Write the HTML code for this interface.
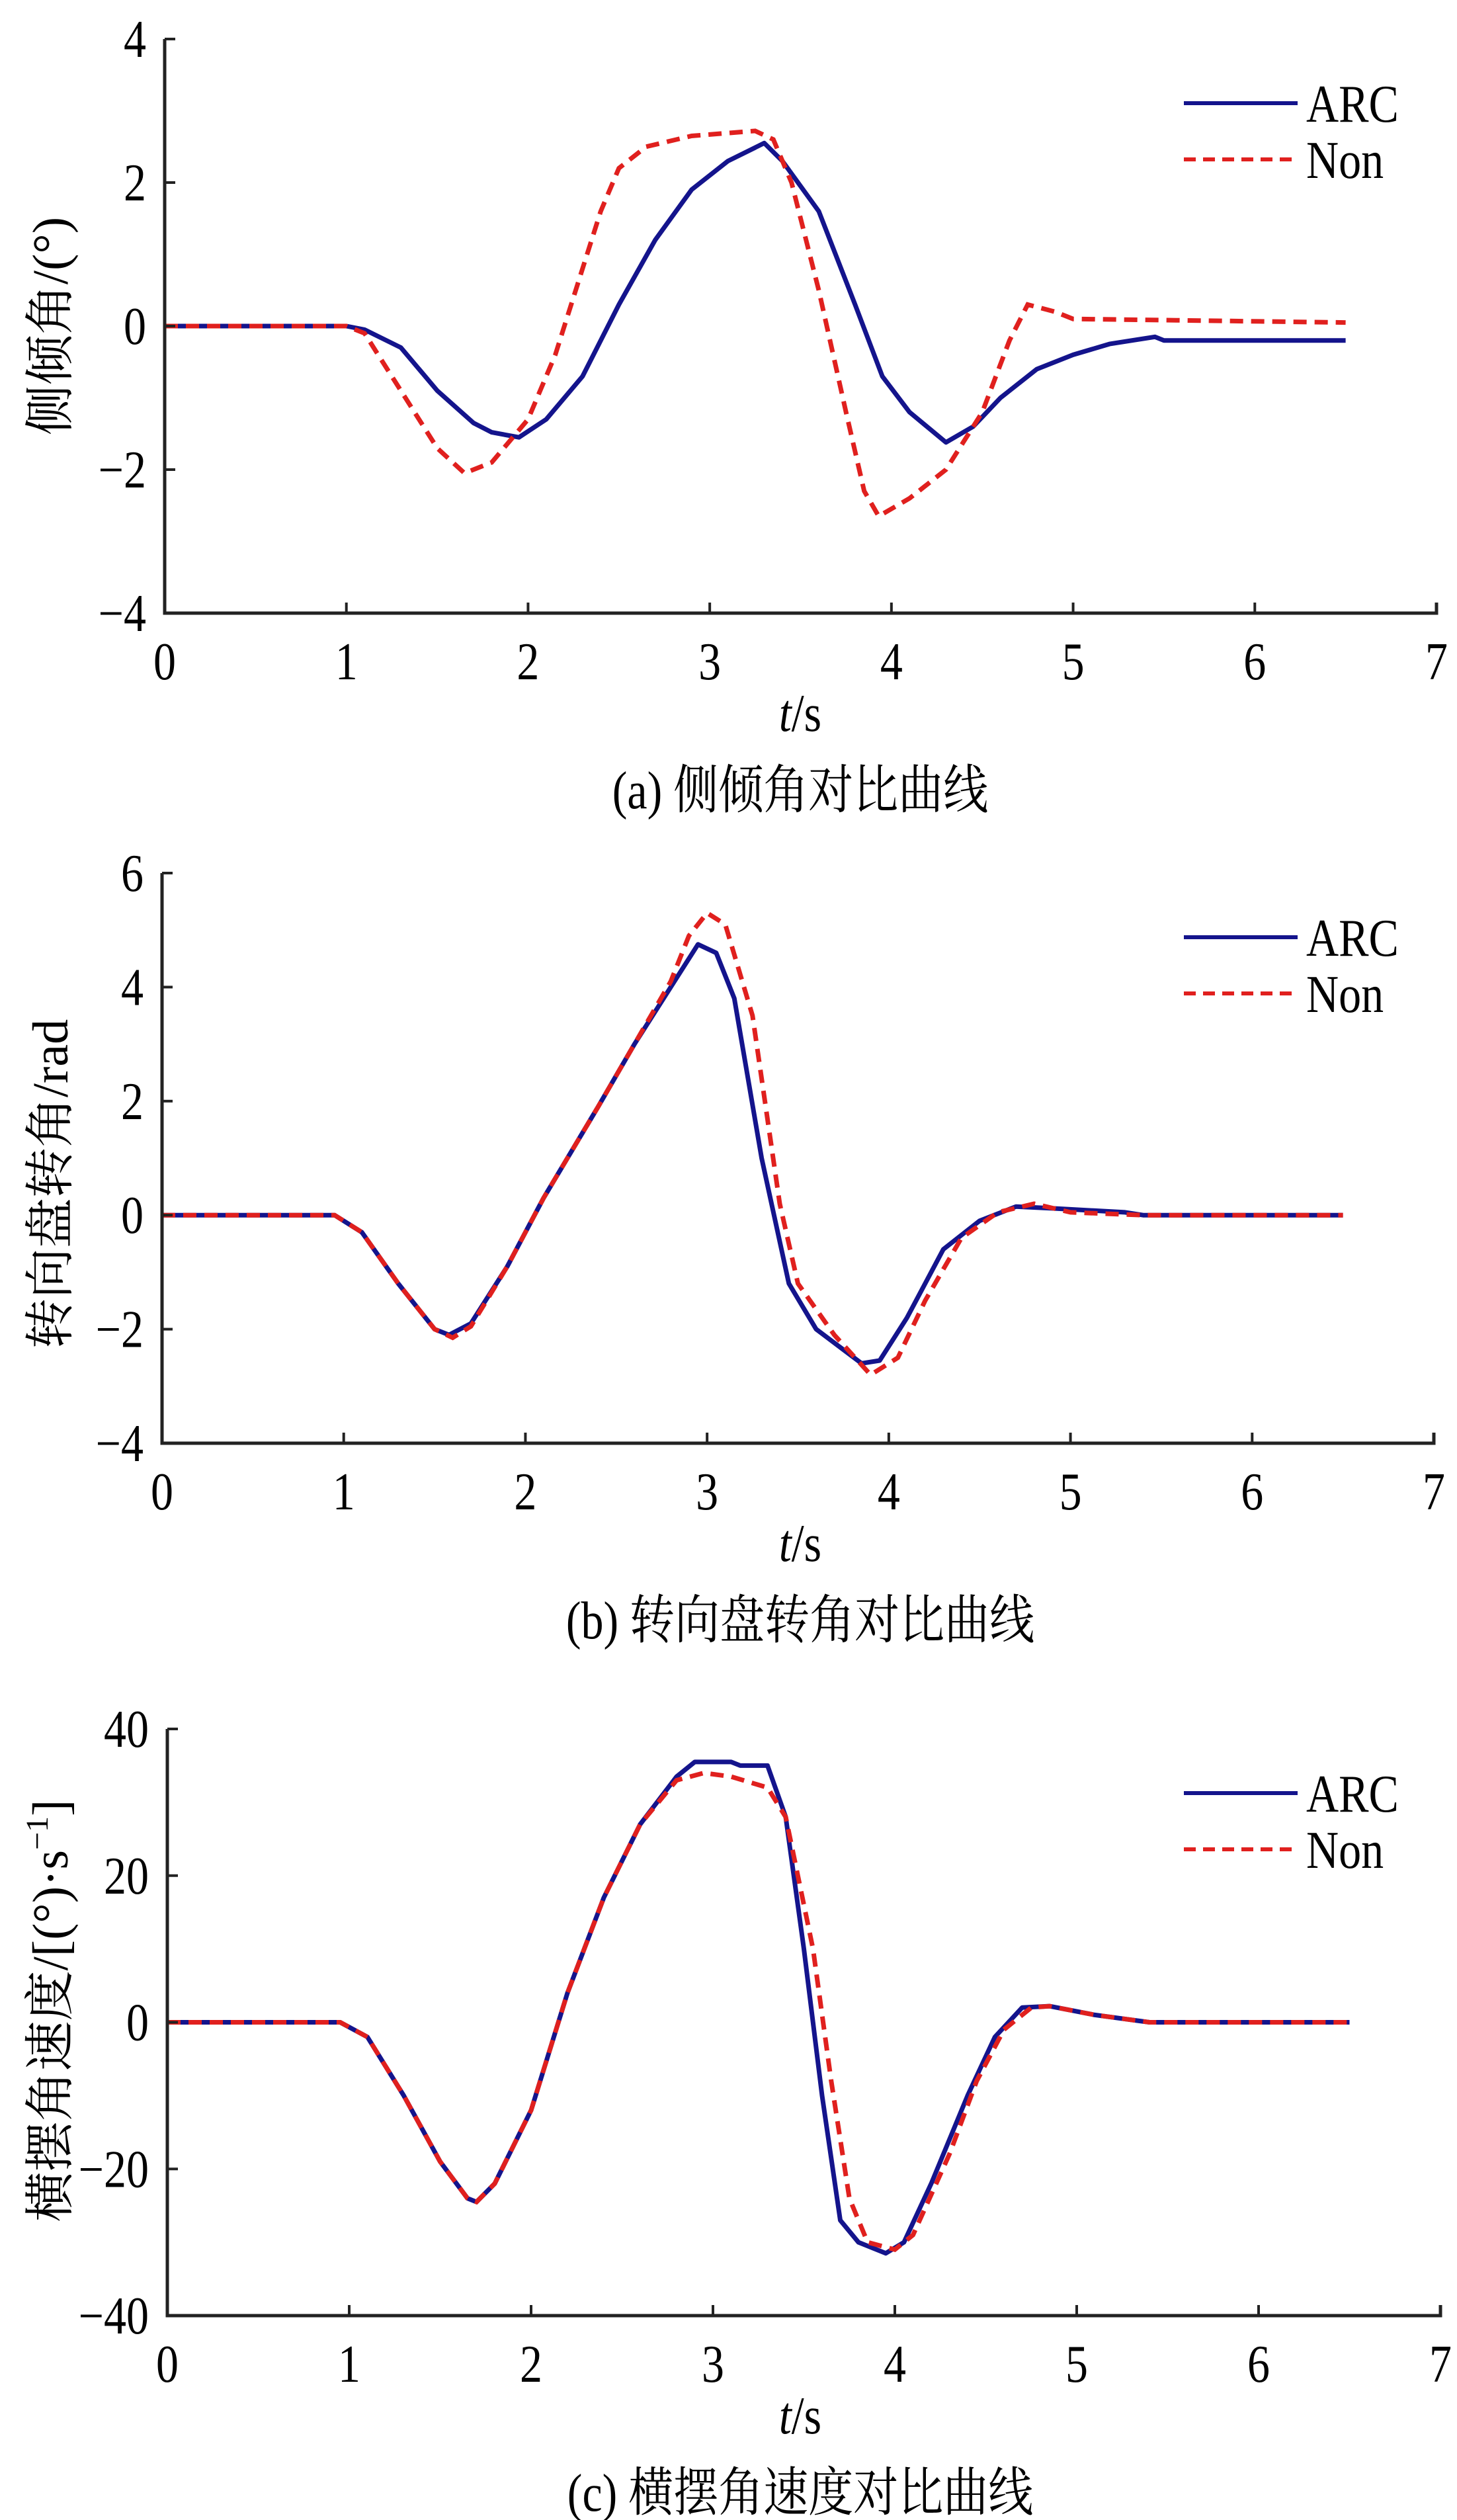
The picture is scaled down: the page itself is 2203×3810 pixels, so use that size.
<!DOCTYPE html>
<html><head><meta charset="utf-8"><style>
body{margin:0;background:#fff}
svg{display:block}
text{font-family:"Liberation Serif","Noto Serif CJK SC","Noto Sans CJK SC",serif;fill:#000}
</style></head><body>
<svg id="chart" width="2203" height="3810" viewBox="0 0 2203 3810" xmlns="http://www.w3.org/2000/svg"></svg>
<script>
const xTicks=[0,1,2,3,4,5,6,7];
const rollT=[0,1.0,1.1,1.3,1.5,1.7,1.8,1.95,2.1,2.3,2.5,2.7,2.9,3.1,3.3,3.4,3.6,3.8,3.95,4.1,4.3,4.45,4.6,4.8,5.0,5.2,5.45,5.5,6.5];
const rollArc=[0,0,-0.05,-0.3,-0.9,-1.35,-1.48,-1.55,-1.3,-0.7,0.3,1.2,1.9,2.3,2.55,2.3,1.6,0.3,-0.7,-1.2,-1.62,-1.4,-1.0,-0.6,-0.4,-0.25,-0.15,-0.2,-0.2];
const rollNonT=[0,1.0,1.1,1.3,1.5,1.65,1.8,2.0,2.15,2.3,2.4,2.5,2.65,2.9,3.25,3.35,3.45,3.6,3.75,3.85,3.93,4.1,4.3,4.5,4.65,4.75,4.9,5.0,6.5];
const rollNon=[0,0,-0.1,-0.9,-1.7,-2.05,-1.9,-1.3,-0.4,0.8,1.6,2.2,2.5,2.65,2.72,2.6,2.0,0.5,-1.2,-2.3,-2.65,-2.4,-2.0,-1.2,-0.2,0.3,0.2,0.1,0.05];
const steerT=[0,0.95,1.1,1.3,1.5,1.58,1.7,1.9,2.1,2.4,2.6,2.8,2.95,3.05,3.15,3.3,3.45,3.6,3.85,3.95,4.1,4.3,4.5,4.7,4.9,5.3,5.4,6.5];
const steerArc=[0,0,-0.3,-1.2,-2.0,-2.1,-1.9,-0.9,0.3,1.9,3.0,4.0,4.75,4.6,3.8,1.0,-1.2,-2.0,-2.6,-2.55,-1.8,-0.6,-0.1,0.15,0.12,0.05,0,0];
const steerNonT=[0,0.95,1.1,1.3,1.5,1.6,1.7,1.9,2.1,2.4,2.6,2.8,2.9,3.0,3.1,3.25,3.4,3.5,3.7,3.9,4.05,4.2,4.4,4.6,4.8,5.0,5.4,6.5];
const steerNon=[0,0,-0.3,-1.2,-2.0,-2.15,-1.95,-0.9,0.3,1.9,3.0,4.1,4.9,5.3,5.1,3.5,0.2,-1.2,-2.1,-2.8,-2.5,-1.5,-0.4,0.05,0.2,0.05,0,0];
const yawT=[0,0.95,1.1,1.3,1.5,1.65,1.7,1.8,2.0,2.2,2.4,2.6,2.8,2.9,3.1,3.15,3.3,3.4,3.5,3.6,3.7,3.8,3.95,4.05,4.2,4.4,4.55,4.7,4.85,5.1,5.4,6.5];
const yawArc=[0,0,-2,-10,-19,-24,-24.5,-22,-12,4,17,27,33.5,35.5,35.5,35,35,28,10,-10,-27,-30,-31.5,-30,-22,-10,-2,2,2.2,1,0,0];
const yawNonT=[0,0.95,1.1,1.3,1.5,1.65,1.7,1.8,2.0,2.2,2.4,2.6,2.8,2.95,3.1,3.3,3.4,3.55,3.65,3.75,3.85,4.0,4.1,4.3,4.45,4.6,4.75,4.85,5.1,5.4,6.5];
const yawNon=[0,0,-2,-10,-19,-24,-24.5,-22,-12,4,17,27,33,34,33.5,32,28,10,-8,-24,-30,-31,-29,-18,-8,-1,2,2.2,1,0,0];
const yTicksA=[-4,-2,0,2,4];
const yTicksB=[-4,-2,0,2,4,6];
const yTicksC=[-40,-20,0,20,40];

const NS="http://www.w3.org/2000/svg";
const svg=document.getElementById('chart');
function mk(tag,attrs,parent){const e=document.createElementNS(NS,tag);for(const k in attrs)e.setAttribute(k,attrs[k]);(parent||svg).appendChild(e);return e;}
// condensed text: scale x by 0.85
function ctext(g,x,y,size,anchor,extra){
  const t=mk('text',Object.assign({x:0,y:0,'font-size':size,'text-anchor':anchor,transform:`translate(${x} ${y}) scale(0.85 1)`},extra||{}),g);
  return t;
}

function panel(id,box,ymin,ymax,yTicks,tickFmt,arcT,arcV,nonT,nonV,caption,ytitleFn,ytitleY){
  const g=mk('g',{});
  
  
  const X=t=>box.l+(t-0)/(7-0)*(box.r-box.l);
  const Y=v=>box.b-(v-ymin)/(ymax-ymin)*(box.b-box.t);
  const mkPath=(T,V)=>T.map((t,i)=>(i?'L':'M')+X(t).toFixed(1)+' '+Y(V[i]).toFixed(1)).join(' ');
  const pa=mk('path',{d:mkPath(arcT,arcV),fill:'none',stroke:'#14148c','stroke-width':7,'stroke-linejoin':'round'},g);
  
  
  const pn=mk('path',{d:mkPath(nonT,nonV),fill:'none',stroke:'#e0201e','stroke-width':7,'stroke-dasharray':'20 12'},g);
  
  
  const ax=mk('path',{d:`M${box.l} ${box.t} L${box.l} ${box.b} L${box.r} ${box.b} L${box.r} ${box.b-16}`,fill:'none',stroke:'#222','stroke-width':5},g);
  
  
  xTicks.forEach(t=>{
    if(t>0&&t<7) mk('line',{x1:X(t),x2:X(t),y1:box.b,y2:box.b-16,stroke:'#222','stroke-width':4},g);
    const tx=ctext(g,X(t),box.b+100,80,'middle');
    tx.textContent=t;
    
    
  });
  yTicks.forEach(v=>{
    mk('line',{x1:box.l,x2:box.l+16,y1:Y(v),y2:Y(v),stroke:'#222','stroke-width':4},g);
    const tx=ctext(g,box.l-28,Y(v)+27,80,'end');
    tx.textContent=tickFmt(v);
    
    
  });
  const xt=ctext(g,1210,box.b+178,80,'middle');
  xt.innerHTML='<tspan font-style="italic">t</tspan>/s';
  
  
  const cap=ctext(g,1210,box.b+295,80,'middle');
  cap.textContent=caption;
  
  
  const yt=mk('text',{x:0,y:0,'font-size':76,'text-anchor':'middle',transform:`translate(102 ${ytitleY}) rotate(-90)`},g);
  ytitleFn(yt);
  
  
  const l1=box.t+97,l2=box.t+182;
  const la=mk('line',{x1:1790,x2:1962,y1:l1,y2:l1,stroke:'#14148c','stroke-width':6},g);
  
  
  const ta=ctext(g,1975,l1+28,80,'start');ta.textContent='ARC';
  
  
  const ln=mk('line',{x1:1790,x2:1962,y1:l2,y2:l2,stroke:'#e0201e','stroke-width':6,'stroke-dasharray':'18 11'},g);
  
  
  const tn=ctext(g,1975,l2+28,80,'start');tn.textContent='Non';
  
  
}
const fmt=v=>v<0?'\u2212'+(-v):''+v;
panel('roll',{l:249,r:2172,t:59,b:927},-4,4,yTicksA,fmt,rollT,rollArc,rollNonT,rollNon,'(a) 侧倾角对比曲线',e=>{e.textContent='侧倾角/(°)';},493);
panel('steer',{l:245,r:2168,t:1320,b:2182},-4,6,yTicksB,fmt,steerT,steerArc,steerNonT,steerNon,'(b) 转向盘转角对比曲线',e=>{e.textContent='转向盘转角/rad';},1790);
panel('yaw',{l:253,r:2178,t:2614,b:3501},-40,40,yTicksC,fmt,yawT,yawArc,yawNonT,yawNon,'(c) 横摆角速度对比曲线',e=>{e.innerHTML='横摆角速度/[(°)·s<tspan dy="-30" font-size="48">−1</tspan><tspan dy="30">]</tspan>';},3040);
</script>
</body></html>
